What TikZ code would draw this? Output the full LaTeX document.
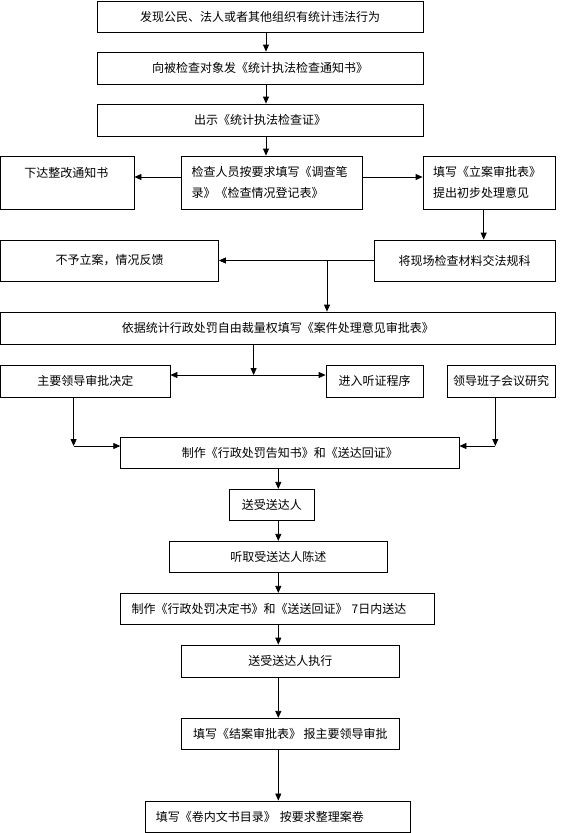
\documentclass[tikz,border=0pt]{standalone}
\usepackage{fontspec}
\newfontfamily\cjk{Noto Sans CJK SC}
\usetikzlibrary{arrows.meta}
\tikzset{
  box/.style={draw, line width=0.8pt, inner sep=0pt, minimum width=#1, font=\cjk\fontsize{12}{21}\selectfont},
  arr/.style={line width=0.8pt, -{Triangle[length=7pt,width=6pt]}},
  dbl/.style={line width=0.8pt, {Triangle[length=7pt,width=6pt]}-{Triangle[length=7pt,width=6pt]}},
  ln/.style={line width=0.8pt}
}
\begin{document}
\begin{tikzpicture}[x=1pt,y=-1pt]
\useasboundingbox (0,0) rectangle (565,833);
% top column
\node[box=326pt, minimum height=31pt] (b1) at (260,16.5) {发现公民、法人或者其他组织有统计违法行为};
\node[box=326pt, minimum height=32pt] (b2) at (260,68) {向被检查对象发《统计执法检查通知书》};
\node[box=326pt, minimum height=32pt] (b3) at (260,120) {出示《统计执法检查证》};
% row 4
\node[box=133.5pt, minimum height=53pt, text width=86pt, inner xsep=23.75pt, align=left] (c4L) at (67.25,182.5) {下达整改通知书\\\mbox{}};
\node[box=181pt, minimum height=53pt, text width=160pt, inner xsep=10.5pt, align=left] (c4C) at (271.5,182.5) {检查人员按要求填写《调查笔\\录》《检查情况登记表》};
\node[box=132pt, minimum height=53pt, text width=112pt, inner xsep=10pt, align=left] (c4R) at (489,182.5) {填写《立案审批表》\\提出初步处理意见};
% row 5
\node[box=218pt, minimum height=41pt] (r5L) at (109.5,260.5) {不予立案，情况反馈};
\node[box=181pt, minimum height=41pt] (r5R) at (464.5,260.5) {将现场检查材料交法规科};
% decision form
\node[box=554.5pt, minimum height=32pt] (yj) at (277.75,328) {依据统计行政处罚自由裁量权填写《案件处理意见审批表》};
% row 7
\node[box=169.5pt, minimum height=32pt] (L7) at (85.25,381) {主要领导审批决定};
\node[box=97pt, minimum height=32pt] (M7) at (374.5,381) {进入听证程序};
\node[box=108pt, minimum height=32pt] (R7) at (501,381) {领导班子会议研究};
% lower column
\node[box=338.3pt, minimum height=31pt] (gz) at (289.85,452.5) {制作《行政处罚告知书》和《送达回证》};
\node[box=84.4pt, minimum height=31.4pt] (s1) at (271.9,505) {送受送达人};
\node[box=218.5pt, minimum height=31pt] (s2) at (278.45,556.8) {听取受送达人陈述};
\node[box=314.1pt, minimum height=31.4pt, text width=292.1pt, inner xsep=11pt, align=left] (s3) at (277.75,609) {制作《行政处罚决定书》和《送送回证》 7日内送达};
\node[box=218.4pt, minimum height=32pt] (s4) at (290.4,661) {送受送达人执行};
\node[box=218.4pt, minimum height=31pt] (s5) at (290.4,733.8) {填写《结案审批表》 报主要领导审批};
\node[box=265.2pt, minimum height=31.3pt, text width=244.2pt, inner xsep=10.5pt, align=left] (s6) at (277.9,816.6) {填写《卷内文书目录》 按要求整理案卷};
% helper coordinates
\coordinate (mx) at (266,0);
\coordinate (ya) at (0,177);
\coordinate (rx) at (483.7,0);
\coordinate (j1) at (327,260.5);
\coordinate (j2) at (253.6,375);
\coordinate (cl) at (73.6,446);
\coordinate (cr) at (495.3,446);
\coordinate (lx) at (278.3,0);
% connectors
\draw[arr] (b1.south -| mx) -- (b2.north -| mx);
\draw[arr] (b2.south -| mx) -- (b3.north -| mx);
\draw[arr] (b3.south -| mx) -- (c4C.north -| mx);
\draw[arr] (c4C.west |- ya) -- (c4L.east |- ya);
\draw[arr] (c4C.east |- ya) -- (c4R.west |- ya);
\draw[arr] (c4R.south -| rx) -- (r5R.north -| rx);
\draw[arr] (r5R.west) -- (r5L.east);
\draw[arr] (j1) -- (yj.north -| j1);
\draw[arr] (yj.south -| j2) -- (j2);
\draw[dbl] (L7.east |- j2) -- (M7.west |- j2);
\draw[arr] (L7.south -| cl) -- (cl);
\draw[arr] (cl) -- (gz.west |- cl);
\draw[arr] (R7.south -| cr) -- (cr);
\draw[arr] (cr) -- (gz.east |- cr);
\draw[arr] (gz.south -| lx) -- (s1.north -| lx);
\draw[arr] (s1.south -| lx) -- (s2.north -| lx);
\draw[arr] (s2.south -| lx) -- (s3.north -| lx);
\draw[arr] (s3.south -| lx) -- (s4.north -| lx);
\draw[arr] (s4.south -| lx) -- (s5.north -| lx);
\draw[arr] (s5.south -| lx) -- (s6.north -| lx);
\end{tikzpicture}
\end{document}
